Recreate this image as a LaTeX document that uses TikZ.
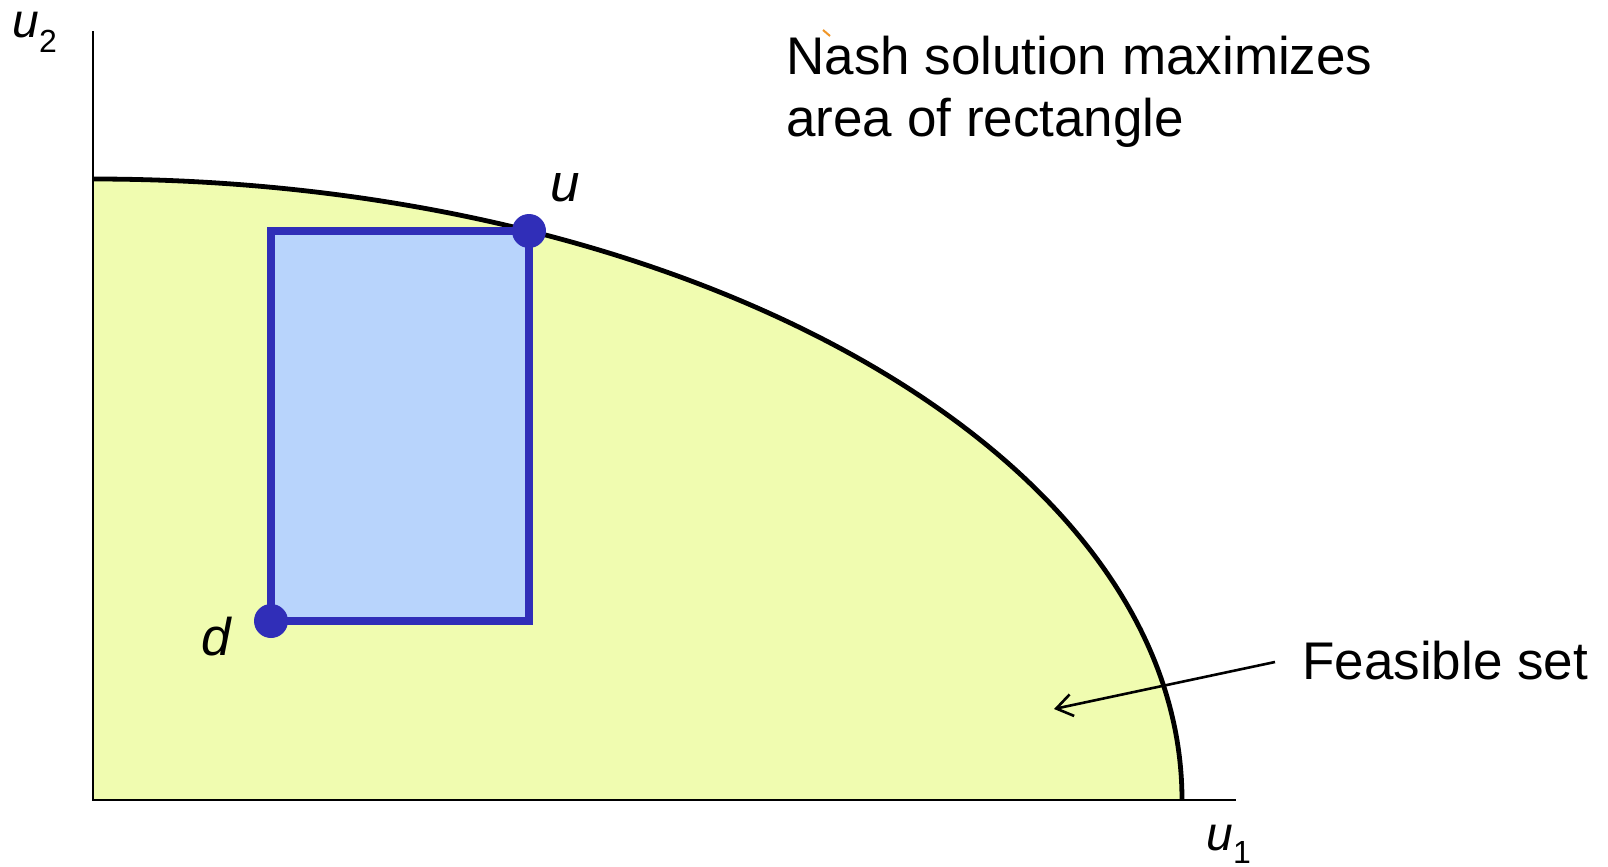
\documentclass[tikz,border=0pt]{standalone}
\usepackage{fontspec}
\setmainfont{Liberation Sans}
\usetikzlibrary{arrows.meta}
\definecolor{feas}{RGB}{240,252,176}
\definecolor{rectfill}{RGB}{184,212,252}
\definecolor{rectline}{RGB}{48,46,184}
\definecolor{tick}{RGB}{240,150,40}
\tikzset{
  axis/.style={line width=1.25pt, black},
  frontier/.style={line width=2.4pt, black},
  nashrect/.style={fill=rectfill, draw=rectline, line width=3.9pt},
  dot/.style={circle, fill=rectline, inner sep=0pt, minimum size=17pt},
  lbl/.style={font=\fontsize{26.5}{31}\selectfont\itshape, inner sep=0pt},
  axlbl/.style={font=\fontsize{24}{28}\selectfont\itshape, inner sep=0pt},
  txt/.style={font=\fontsize{26.5}{31}\selectfont, inner sep=0pt},
  pointer/.style={line width=1.3pt, -{Straight Barb[length=8pt,width=11pt]}}
}
\newcommand{\axsub}[2]{\raisebox{-#1}{\fontsize{16}{18}\selectfont\upshape #2}}
\begin{document}
\begin{tikzpicture}[x=0.5pt,y=-0.5pt]
\useasboundingbox (0,0) rectangle (1608,867);
% feasible set
\fill[feas] (93,800) -- (93,179) arc[start angle=-90,end angle=0,x radius=1089,y radius=621] -- cycle;
% axes
\coordinate (O) at (93,800);
\coordinate (ytop) at (93,31);
\coordinate (xend) at (1236,800);
\draw[axis] (ytop) -- (O) -- (xend);
% frontier
\draw[frontier] (93,179) arc[start angle=-90,end angle=0,x radius=1089,y radius=621];
% rectangle
\coordinate (dpt) at (271,621);
\coordinate (upt) at (529,231);
\draw[nashrect] (dpt) rectangle (upt);
\node[dot] (d) at (dpt) {};
\node[dot] (u) at (upt) {};
% labels
\node[axlbl, anchor=base west] (u2lab) at (12,37) {u\axsub{8pt}{2}};
\node[axlbl, anchor=base west] (u1lab) at (1206,850) {u\axsub{6.5pt}{1}};
\node[lbl, anchor=base west] (ulab) at (550,201) {u};
\node[lbl, anchor=base west] (dlab) at (201,655) {d};
\node[txt, anchor=base west, align=left] (nash) at (786,136) {Nash solution maximizes\\area of rectangle};
\node[txt, anchor=base west] (feaslab) at (1302,679) {Feasible set};
\coordinate (arrs) at (1275,662);
\coordinate (arre) at (1054,709);
\draw[pointer] (arrs) -- (arre);
\draw[tick, line width=1pt] (823,30) -- (830,36);
\end{tikzpicture}
\end{document}
